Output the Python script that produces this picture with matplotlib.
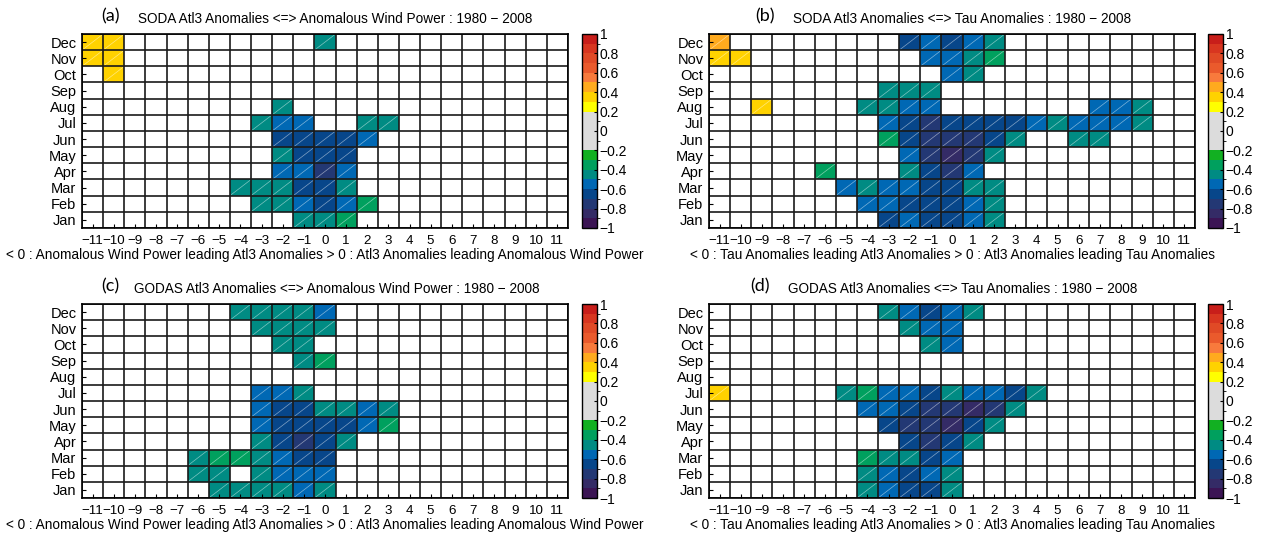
import numpy as np
import matplotlib.pyplot as plt
from matplotlib.colors import ListedColormap, BoundaryNorm

plt.rcParams['font.family'] = ['Liberation Sans', 'DejaVu Sans']

# Meses (linhas) e defasagens (colunas)
months = ['Jan', 'Feb', 'Mar', 'Apr', 'May', 'Jun', 'Jul', 'Aug', 'Sep', 'Oct', 'Nov', 'Dec']
lags = list(range(-11, 12))

# Correlações significativas: mês -> {defasagem: valor}
soda_wind = {
    'Dec': {-11: 0.35, -10: 0.35, 0: -0.45},
    'Nov': {-11: 0.35, -10: 0.35},
    'Oct': {-10: 0.35},
    'Aug': {-2: -0.45},
    'Jul': {-3: -0.45, -2: -0.55, -1: -0.55, 2: -0.45, 3: -0.45},
    'Jun': {-2: -0.65, -1: -0.65, 0: -0.65, 1: -0.65, 2: -0.55},
    'May': {-2: -0.45, -1: -0.65, 0: -0.65, 1: -0.65},
    'Apr': {-2: -0.55, -1: -0.55, 0: -0.75, 1: -0.55},
    'Mar': {-4: -0.45, -3: -0.45, -2: -0.45, -1: -0.65, 0: -0.65, 1: -0.45},
    'Feb': {-3: -0.45, -2: -0.45, -1: -0.55, 0: -0.65, 1: -0.55, 2: -0.35},
    'Jan': {-1: -0.45, 0: -0.45, 1: -0.35},
}

soda_tau = {
    'Dec': {-11: 0.45, -2: -0.65, -1: -0.55, 0: -0.65, 1: -0.55, 2: -0.45},
    'Nov': {-11: 0.35, -10: 0.35, -1: -0.55, 0: -0.55, 1: -0.45, 2: -0.35},
    'Oct': {0: -0.55, 1: -0.45},
    'Sep': {-3: -0.45, -2: -0.45, -1: -0.45},
    'Aug': {-9: 0.35, -4: -0.45, -3: -0.45, -2: -0.55, -1: -0.55, 7: -0.55, 8: -0.55, 9: -0.45},
    'Jul': {-3: -0.55, -2: -0.65, -1: -0.75, 0: -0.65, 1: -0.65, 2: -0.65, 3: -0.65,
            4: -0.55, 5: -0.45, 6: -0.55, 7: -0.55, 8: -0.55, 9: -0.45},
    'Jun': {-3: -0.35, -2: -0.65, -1: -0.75, 0: -0.75, 1: -0.75, 2: -0.65, 3: -0.45,
            6: -0.45, 7: -0.45},
    'May': {-2: -0.55, -1: -0.75, 0: -0.85, 1: -0.75, 2: -0.45},
    'Apr': {-6: -0.35, -2: -0.45, -1: -0.65, 0: -0.75, 1: -0.55},
    'Mar': {-5: -0.55, -4: -0.45, -3: -0.55, -2: -0.55, -1: -0.65, 0: -0.65, 1: -0.45, 2: -0.45},
    'Feb': {-4: -0.55, -3: -0.55, -2: -0.65, -1: -0.65, 0: -0.65, 1: -0.55, 2: -0.45},
    'Jan': {-3: -0.65, -2: -0.55, -1: -0.65, 0: -0.65, 1: -0.55, 2: -0.45},
}

godas_wind = {
    'Dec': {-4: -0.45, -3: -0.45, -2: -0.45, -1: -0.45, 0: -0.55},
    'Nov': {-3: -0.45, -2: -0.45, -1: -0.45, 0: -0.45},
    'Oct': {-2: -0.45, -1: -0.45},
    'Sep': {-1: -0.45, 0: -0.35},
    'Jul': {-3: -0.55, -2: -0.55, -1: -0.45},
    'Jun': {-3: -0.55, -2: -0.65, -1: -0.65, 0: -0.45, 1: -0.45, 2: -0.55, 3: -0.45},
    'May': {-3: -0.55, -2: -0.65, -1: -0.65, 0: -0.65, 1: -0.65, 2: -0.55, 3: -0.35},
    'Apr': {-3: -0.45, -2: -0.65, -1: -0.75, 0: -0.65, 1: -0.45},
    'Mar': {-6: -0.45, -5: -0.35, -4: -0.35, -3: -0.45, -2: -0.55, -1: -0.65, 0: -0.65},
    'Feb': {-6: -0.45, -5: -0.45, -3: -0.45, -2: -0.55, -1: -0.55, 0: -0.55},
    'Jan': {-5: -0.45, -4: -0.45, -3: -0.45, -2: -0.45, -1: -0.55, 0: -0.45},
}

godas_tau = {
    'Dec': {-3: -0.45, -2: -0.55, -1: -0.65, 0: -0.55, 1: -0.45},
    'Nov': {-2: -0.45, -1: -0.55, 0: -0.55},
    'Oct': {-1: -0.45, 0: -0.55},
    'Jul': {-11: 0.35, -5: -0.45, -4: -0.35, -3: -0.55, -2: -0.55, -1: -0.65, 0: -0.45,
            1: -0.55, 2: -0.55, 3: -0.65, 4: -0.45},
    'Jun': {-4: -0.55, -3: -0.55, -2: -0.65, -1: -0.75, 0: -0.75, 1: -0.85, 2: -0.75, 3: -0.45},
    'May': {-3: -0.65, -2: -0.75, -1: -0.75, 0: -0.85, 1: -0.65, 2: -0.45},
    'Apr': {-2: -0.65, -1: -0.75, 0: -0.65, 1: -0.45},
    'Mar': {-4: -0.35, -3: -0.45, -2: -0.45, -1: -0.65, 0: -0.55},
    'Feb': {-4: -0.45, -3: -0.55, -2: -0.65, -1: -0.55, 0: -0.45},
    'Jan': {-4: -0.45, -3: -0.55, -2: -0.65, -1: -0.65, 0: -0.45},
}

titles = [
    ('(a)', 'SODA Atl3 Anomalies <=> Anomalous Wind Power : 1980 \u2212 2008'),
    ('(b)', 'SODA Atl3 Anomalies <=> Tau Anomalies : 1980 \u2212 2008'),
    ('(c)', 'GODAS Atl3 Anomalies <=> Anomalous Wind Power : 1980 \u2212 2008'),
    ('(d)', 'GODAS Atl3 Anomalies <=> Tau Anomalies : 1980 \u2212 2008'),
]
xlabels = [
    '< 0 : Anomalous Wind Power leading Atl3 Anomalies > 0 : Atl3 Anomalies leading Anomalous Wind Power',
    '< 0 : Tau Anomalies leading Atl3 Anomalies > 0 : Atl3 Anomalies leading Tau Anomalies',
]

# Paleta discreta (20 classes de 0.1 entre -1 e 1)
cbar_colors = ['#3b1454', '#342b66', '#233874', '#07468a', '#0068b4', '#008b83',
               '#00a05e', '#12b022', '#dcdcdc', '#dcdcdc', '#dcdcdc', '#dcdcdc',
               '#ffff00', '#ffd200', '#ffaa1e', '#f87a3c', '#ea5a2c', '#e04a26',
               '#d83620', '#c81e1a']
cmap = ListedColormap(cbar_colors)
norm = BoundaryNorm(np.linspace(-1, 1, 21), cmap.N)


def to_grid(d):
    grid = np.full((len(months), len(lags)), np.nan)
    for m, row in d.items():
        for lag, v in row.items():
            grid[months.index(m), lags.index(lag)] = v
    return grid


def fmt(v):
    s = f'{round(v, 1):g}'
    if s == '-0':
        s = '0'
    return s.replace('-', '\u2212')


W, H = 1261, 534
fig = plt.figure(figsize=(W / 100, H / 100), dpi=100)


def px_axes(x0, y0, x1, y1):
    return fig.add_axes([x0 / W, 1 - y1 / H, (x1 - x0) / W, (y1 - y0) / H])


# posições em pixels: eixo (x0, x1, y0, y1), colorbar (x0, x1), x do rótulo, x do título, qual xlabel
layout = [
    (soda_wind, 82, 568, 34, 228, 582, 597, 110, 138, 0),
    (soda_tau, 709, 1195, 34, 228, 1208, 1223, 765, 793, 1),
    (godas_wind, 82, 568, 304, 498, 582, 597, 110, 134, 0),
    (godas_tau, 709, 1195, 304, 498, 1208, 1223, 760, 788, 1),
]

for i, (data, x0, x1, y0, y1, cx0, cx1, lx, tx, xl) in enumerate(layout):
    ax = px_axes(x0, y0, x1, y1)
    grid = to_grid(data)
    mesh = ax.pcolormesh(np.arange(-11.5, 12.5), np.arange(-0.5, 12.5),
                         np.ma.masked_invalid(grid), cmap=cmap, norm=norm)

    # linha diagonal fina nas células significativas
    for r, c in zip(*np.where(~np.isnan(grid))):
        ax.plot([lags[c] - 0.5, lags[c] + 0.5], [r - 0.5, r + 0.5],
                color='white', lw=0.5, alpha=0.5)

    ax.vlines(np.arange(-11.5, 12.5), -0.5, 11.5, color='#1a1a1a', lw=1.2)
    ax.hlines(np.arange(-0.5, 12.5), -11.5, 11.5, color='#1a1a1a', lw=1.2)
    ax.set_xlim(-11.5, 11.5)
    ax.set_ylim(-0.5, 11.5)
    for s in ax.spines.values():
        s.set_linewidth(1.2)

    ax.set_xticks(lags)
    ax.set_xticklabels([fmt(l) for l in lags], fontsize=9.6)
    ax.set_yticks(range(12))
    ax.set_yticklabels(months, fontsize=10.5)
    ax.tick_params(direction='in', length=3, width=0.8, pad=4)
    ax.tick_params(axis='x', pad=5)
    ax.set_xlabel(xlabels[xl], fontsize=9.8, labelpad=1)

    fig.text(lx / W, 1 - (y0 - 18) / H, titles[i][0],
             family=['Lato', 'DejaVu Sans'], fontsize=13, ha='center', va='center')
    fig.text(tx / W, 1 - (y0 - 15) / H, titles[i][1], fontsize=9.8, ha='left', va='center')

    cax = px_axes(cx0, y0, cx1, y1)
    cb = fig.colorbar(mesh, cax=cax, ticks=np.linspace(-1, 1, 11))
    cb.ax.set_yticklabels([fmt(v) for v in np.linspace(-1, 1, 11)], fontsize=10)
    cb.ax.tick_params(direction='in', length=2, width=0.8, pad=2)
    cb.outline.set_linewidth(1.0)

fig.savefig('out.png', dpi=100)
